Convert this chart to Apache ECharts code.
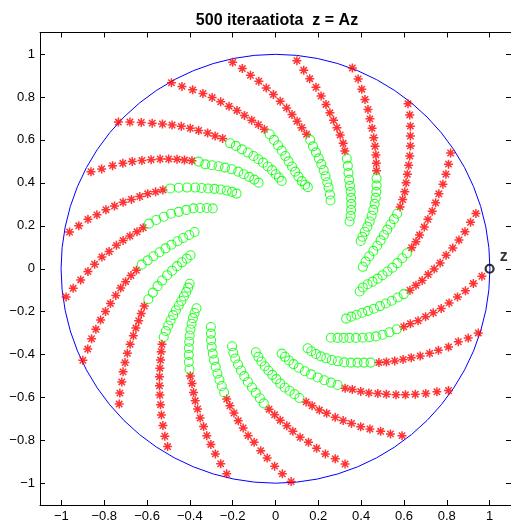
<!DOCTYPE html>
<html><head><meta charset="utf-8">
<script src="https://cdn.jsdelivr.net/npm/echarts@6/dist/echarts.min.js"></script>
<style>html,body{margin:0;padding:0;background:#fff}#c{width:511px;height:523px}</style>
</head><body><div id="c"></div>
<script>
const titleText = '500 iteraatiota  z = Az';
const xTicks = [-1, -0.8, -0.6, -0.4, -0.2, 0, 0.2, 0.4, 0.6, 0.8, 1];
const yTicks = [-1, -0.8, -0.6, -0.4, -0.2, 0, 0.2, 0.4, 0.6, 0.8, 1];
const axisRange = [-1.1, 1.1];
const unitCircle = [[0, 0, 1]];
const startPoint = [[1, 0]];
const startLabel = 'z';

const a01R = [[0.964,-0.035],[0.924,-0.069],[0.887,-0.103],[0.850,-0.131],[0.811,-0.159],[0.774,-0.185],[0.737,-0.205],[0.701,-0.223],[0.666,-0.242],[0.630,-0.256],[0.599,-0.270]];
const a01G = [[0.566,-0.282],[0.532,-0.296],[0.500,-0.307],[0.469,-0.315],[0.438,-0.319],[0.407,-0.321],[0.376,-0.322],[0.345,-0.322],[0.318,-0.322],[0.290,-0.322],[0.259,-0.321]];
const a02R = [[0.936,0.257],[0.911,0.216],[0.885,0.172],[0.857,0.134],[0.828,0.097],[0.797,0.063],[0.769,0.027],[0.741,-0.001],[0.713,-0.027],[0.685,-0.055],[0.656,-0.077],[0.628,-0.100]];
const a02G = [[0.599,-0.118],[0.571,-0.134],[0.543,-0.149],[0.515,-0.162],[0.488,-0.174],[0.460,-0.186],[0.432,-0.196],[0.405,-0.205],[0.379,-0.214],[0.354,-0.223],[0.330,-0.232]];
const a03R = [[0.818,0.539],[0.808,0.487],[0.796,0.440],[0.782,0.394],[0.763,0.349],[0.748,0.307],[0.732,0.268],[0.712,0.230],[0.695,0.194],[0.673,0.157],[0.656,0.126],[0.636,0.098]];
const a03G = [[0.614,0.072],[0.592,0.049],[0.569,0.026],[0.546,0.005],[0.523,-0.013],[0.500,-0.030],[0.477,-0.046],[0.453,-0.060],[0.430,-0.072],[0.408,-0.087],[0.393,-0.106]];
const a04R = [[0.619,0.768],[0.627,0.716],[0.630,0.664],[0.630,0.618],[0.630,0.572],[0.627,0.525],[0.622,0.482],[0.616,0.440],[0.610,0.400],[0.604,0.358],[0.594,0.322],[0.582,0.288]];
const a04G = [[0.568,0.256],[0.553,0.231],[0.537,0.206],[0.522,0.182],[0.506,0.157],[0.491,0.132],[0.475,0.107],[0.457,0.083],[0.438,0.058],[0.421,0.033],[0.408,0.009]];
const a05R = [[0.359,0.935],[0.386,0.884],[0.403,0.836],[0.418,0.788],[0.432,0.742],[0.441,0.698],[0.451,0.654],[0.459,0.610],[0.465,0.570],[0.469,0.530],[0.471,0.491],[0.472,0.456]];
const a05G = [[0.472,0.421],[0.472,0.388],[0.471,0.358],[0.468,0.330],[0.463,0.302],[0.457,0.274],[0.449,0.247],[0.440,0.220],[0.429,0.196],[0.417,0.172],[0.406,0.149],[0.398,0.129]];
const a06R = [[0.100,0.969],[0.132,0.924],[0.160,0.885],[0.189,0.845],[0.213,0.804],[0.236,0.765],[0.254,0.726],[0.271,0.691],[0.287,0.657],[0.302,0.623],[0.316,0.584],[0.324,0.548]];
const a06G = [[0.333,0.513],[0.338,0.479],[0.341,0.446],[0.344,0.414],[0.348,0.386],[0.351,0.358],[0.353,0.330],[0.354,0.302],[0.353,0.274],[0.351,0.246],[0.346,0.220]];
const a07R = [[-0.200,0.961],[-0.155,0.932],[-0.117,0.901],[-0.078,0.873],[-0.043,0.842],[-0.010,0.811],[0.022,0.780],[0.052,0.749],[0.077,0.718],[0.101,0.687],[0.123,0.657],[0.145,0.626]];
const a07G = [[0.162,0.600],[0.175,0.570],[0.189,0.542],[0.202,0.514],[0.214,0.487],[0.225,0.459],[0.234,0.431],[0.242,0.403],[0.248,0.378],[0.254,0.346],[0.257,0.318]];
const a08R = [[-0.486,0.866],[-0.437,0.849],[-0.387,0.833],[-0.339,0.816],[-0.296,0.797],[-0.256,0.777],[-0.217,0.757],[-0.180,0.737],[-0.145,0.714],[-0.111,0.692],[-0.080,0.671],[-0.052,0.649]];
const a08G = [[-0.027,0.626],[-0.007,0.600],[0.012,0.575],[0.029,0.550],[0.046,0.525],[0.061,0.500],[0.077,0.476],[0.092,0.452],[0.107,0.429],[0.123,0.408],[0.138,0.391],[0.151,0.380]];
const a09R = [[-0.734,0.683],[-0.680,0.683],[-0.627,0.681],[-0.576,0.678],[-0.528,0.674],[-0.483,0.669],[-0.440,0.663],[-0.398,0.654],[-0.359,0.644],[-0.317,0.632],[-0.282,0.618],[-0.247,0.607]];
const a09G = [[-0.212,0.584],[-0.185,0.572],[-0.157,0.556],[-0.129,0.541],[-0.103,0.525],[-0.080,0.510],[-0.058,0.494],[-0.036,0.476],[-0.016,0.459],[0.001,0.440],[0.016,0.425],[0.029,0.409]];
const a10R = [[-0.862,0.452],[-0.812,0.465],[-0.761,0.480],[-0.713,0.491],[-0.669,0.499],[-0.624,0.504],[-0.581,0.508],[-0.539,0.511],[-0.499,0.511],[-0.460,0.510],[-0.425,0.506],[-0.390,0.503]];
const a10G = [[-0.359,0.499],[-0.328,0.486],[-0.297,0.482],[-0.266,0.477],[-0.236,0.471],[-0.205,0.463],[-0.174,0.452],[-0.148,0.440],[-0.123,0.428],[-0.099,0.415],[-0.079,0.401]];
const a11R = [[-0.962,0.171],[-0.919,0.200],[-0.876,0.230],[-0.834,0.251],[-0.792,0.275],[-0.752,0.292],[-0.712,0.310],[-0.673,0.323],[-0.634,0.336],[-0.597,0.349],[-0.560,0.358],[-0.526,0.367]];
const a11G = [[-0.491,0.374],[-0.452,0.377],[-0.413,0.378],[-0.375,0.378],[-0.345,0.376],[-0.315,0.374],[-0.285,0.372],[-0.256,0.369],[-0.228,0.364],[-0.203,0.358],[-0.182,0.350]];
const a12R = [[-0.978,-0.131],[-0.945,-0.091],[-0.910,-0.052],[-0.876,-0.013],[-0.845,0.021],[-0.811,0.055],[-0.777,0.080],[-0.743,0.109],[-0.712,0.132],[-0.680,0.152],[-0.647,0.172],[-0.618,0.191]];
const a12G = [[-0.591,0.210],[-0.557,0.227],[-0.522,0.242],[-0.488,0.256],[-0.452,0.265],[-0.417,0.274],[-0.383,0.281],[-0.352,0.283],[-0.321,0.283],[-0.293,0.281]];
const a13R = [[-0.900,-0.426],[-0.877,-0.374],[-0.859,-0.326],[-0.839,-0.282],[-0.817,-0.239],[-0.794,-0.199],[-0.771,-0.162],[-0.746,-0.124],[-0.723,-0.090],[-0.700,-0.060],[-0.675,-0.032],[-0.650,-0.007]];
const a13G = [[-0.625,0.019],[-0.597,0.039],[-0.570,0.058],[-0.542,0.077],[-0.514,0.095],[-0.486,0.112],[-0.458,0.128],[-0.431,0.143],[-0.403,0.157],[-0.378,0.171]];
const a14R = [[-0.730,-0.630],[-0.727,-0.579],[-0.718,-0.527],[-0.712,-0.480],[-0.703,-0.437],[-0.692,-0.394],[-0.679,-0.352],[-0.664,-0.312],[-0.652,-0.276],[-0.639,-0.242],[-0.627,-0.208],[-0.613,-0.174]];
const a14G = [[-0.594,-0.142],[-0.573,-0.111],[-0.551,-0.081],[-0.530,-0.055],[-0.506,-0.030],[-0.483,-0.009],[-0.460,0.012],[-0.437,0.030],[-0.415,0.047],[-0.397,0.063]];
const a15R = [[-0.504,-0.828],[-0.517,-0.780],[-0.526,-0.730],[-0.533,-0.681],[-0.537,-0.633],[-0.540,-0.588],[-0.542,-0.545],[-0.542,-0.503],[-0.540,-0.463],[-0.537,-0.425],[-0.534,-0.386],[-0.530,-0.352]];
const a15G = [[-0.522,-0.318],[-0.512,-0.290],[-0.501,-0.264],[-0.490,-0.240],[-0.478,-0.216],[-0.465,-0.193],[-0.452,-0.171],[-0.440,-0.150],[-0.428,-0.129],[-0.417,-0.108],[-0.408,-0.088],[-0.401,-0.070]];
const a16R = [[-0.228,-0.955],[-0.256,-0.908],[-0.281,-0.862],[-0.302,-0.818],[-0.321,-0.777],[-0.336,-0.735],[-0.352,-0.695],[-0.364,-0.653],[-0.375,-0.615],[-0.383,-0.576],[-0.390,-0.534],[-0.398,-0.499]];
const a16G = [[-0.402,-0.468],[-0.405,-0.434],[-0.405,-0.401],[-0.405,-0.370],[-0.403,-0.340],[-0.401,-0.311],[-0.397,-0.283],[-0.392,-0.256],[-0.386,-0.230],[-0.378,-0.206],[-0.369,-0.184]];
const a17R = [[0.073,-0.991],[0.032,-0.955],[-0.004,-0.919],[-0.039,-0.881],[-0.069,-0.847],[-0.100,-0.808],[-0.128,-0.777],[-0.151,-0.741],[-0.174,-0.708],[-0.194,-0.672],[-0.213,-0.638],[-0.228,-0.607]];
const a17G = [[-0.240,-0.576],[-0.251,-0.546],[-0.262,-0.517],[-0.271,-0.488],[-0.279,-0.457],[-0.287,-0.426],[-0.293,-0.395],[-0.298,-0.364],[-0.301,-0.333],[-0.302,-0.302],[-0.302,-0.271]];
const a18R = [[0.325,-0.909],[0.279,-0.885],[0.233,-0.862],[0.192,-0.836],[0.154,-0.808],[0.115,-0.785],[0.081,-0.757],[0.053,-0.731],[0.022,-0.705],[-0.004,-0.680],[-0.030,-0.654]];
const a18G = [[-0.055,-0.627],[-0.073,-0.603],[-0.092,-0.578],[-0.110,-0.553],[-0.129,-0.527],[-0.146,-0.500],[-0.161,-0.474],[-0.175,-0.446],[-0.188,-0.418],[-0.197,-0.391],[-0.203,-0.361]];
const a19R = [[0.591,-0.777],[0.537,-0.769],[0.491,-0.757],[0.441,-0.746],[0.398,-0.736],[0.355,-0.720],[0.316,-0.707],[0.279,-0.692],[0.239,-0.673],[0.205,-0.658],[0.171,-0.638],[0.143,-0.620]];
const a19G = [[0.112,-0.602],[0.089,-0.584],[0.066,-0.568],[0.043,-0.553],[0.022,-0.534],[0.004,-0.514],[-0.015,-0.494],[-0.033,-0.474],[-0.050,-0.454],[-0.066,-0.432],[-0.080,-0.410],[-0.092,-0.389]];
const a20R = [[0.808,-0.567],[0.754,-0.573],[0.702,-0.581],[0.653,-0.584],[0.607,-0.587],[0.563,-0.587],[0.518,-0.584],[0.478,-0.581],[0.436,-0.578],[0.398,-0.571],[0.359,-0.562],[0.325,-0.556]];
const a20G = [[0.290,-0.541],[0.259,-0.530],[0.228,-0.519],[0.197,-0.506],[0.166,-0.492],[0.137,-0.477],[0.109,-0.461],[0.084,-0.444],[0.063,-0.427],[0.044,-0.410],[0.029,-0.395]];
const a21R = [[0.947,-0.299],[0.900,-0.323],[0.854,-0.340],[0.808,-0.364],[0.761,-0.380],[0.720,-0.394],[0.676,-0.406],[0.634,-0.414],[0.596,-0.422],[0.557,-0.429],[0.518,-0.434],[0.483,-0.437]];
const a21G = [[0.444,-0.437],[0.413,-0.437],[0.383,-0.437],[0.352,-0.437],[0.321,-0.436],[0.291,-0.431],[0.263,-0.425],[0.237,-0.417],[0.212,-0.408],[0.189,-0.397],[0.167,-0.384],[0.150,-0.370]];

const redArms = [a01R,a02R,a03R,a04R,a05R,a06R,a07R,a08R,a09R,a10R,a11R,a12R,a13R,a14R,a15R,a16R,a17R,a18R,a19R,a20R,a21R];
const greenArms = [a01G,a02G,a03G,a04G,a05G,a06G,a07G,a08G,a09G,a10G,a11G,a12G,a13G,a14G,a15G,a16G,a17G,a18G,a19G,a20G,a21G];
const redPoints = [].concat(...redArms);
const greenPoints = [].concat(...greenArms);

const FONT = '"Liberation Sans", Arial, Helvetica, sans-serif';
const fmt = v => (v < 0 ? '\u2212' : '') + String(Math.abs(v));
const starPath = 'path://M0,-10L0,10M-10,0L10,0M-7.07,-7.07L7.07,7.07M-7.07,7.07L7.07,-7.07';

function mkAxis(pos, ticks, showLabels) {
  return {
    type: 'value', position: pos, min: axisRange[0], max: axisRange[1],
    splitLine: { show: false },
    axisLine: { show: true, onZero: false, lineStyle: { color: '#000', width: 1 } },
    axisTick: { show: true, inside: true, length: 5, customValues: ticks, lineStyle: { color: '#000', width: 1 } },
    axisLabel: { show: showLabels, customValues: ticks, formatter: fmt, color: '#000', fontSize: 13, fontFamily: FONT, margin: 5 }
  };
}

const chart = echarts.init(document.getElementById('c'), null, { renderer: 'canvas' });
chart.setOption({
  animation: false,
  backgroundColor: '#fff',
  title: { text: titleText, left: 277, top: 13, textAlign: 'center', padding: 0,
    textStyle: { fontSize: 16, fontWeight: 'bold', color: '#000', fontFamily: FONT } },
  grid: { left: 40, top: 32.5, width: 475, height: 474, containLabel: false },
  xAxis: [mkAxis('bottom', xTicks, true), mkAxis('top', xTicks, false)],
  yAxis: [mkAxis('left', yTicks, true), mkAxis('right', yTicks, false)],
  series: [
    {
      type: 'custom', data: unitCircle, encode: { x: 0, y: 1 }, silent: true, clip: false, z: 1,
      renderItem: (params, api) => {
        const c = api.coord([api.value(0), api.value(1)]);
        const s = api.size([api.value(2), api.value(2)]);
        return { type: 'circle', shape: { cx: c[0], cy: c[1], r: (s[0] + s[1]) / 2 },
          style: { fill: 'none', stroke: '#0000ff', lineWidth: 1 } };
      }
    },
    {
      type: 'scatter', data: redPoints, symbol: starPath, symbolSize: 9, silent: true, z: 2,
      itemStyle: { color: 'transparent', borderColor: '#ff0000', borderWidth: 1.5 }
    },
    {
      type: 'scatter', data: greenPoints, symbol: 'circle', symbolSize: 9, silent: true, z: 3,
      itemStyle: { color: 'transparent', borderColor: '#00ff00', borderWidth: 1.1 }
    },
    {
      type: 'scatter', data: startPoint, symbol: 'circle', symbolSize: 8, silent: true, z: 4,
      itemStyle: { color: 'transparent', borderColor: '#000', borderWidth: 2.2 },
      label: { show: true, formatter: startLabel, position: 'right', distance: 5, offset: [0, -12],
        fontSize: 16, fontWeight: 'bold', color: '#000', fontFamily: FONT }
    }
  ]
});
</script></body></html>
